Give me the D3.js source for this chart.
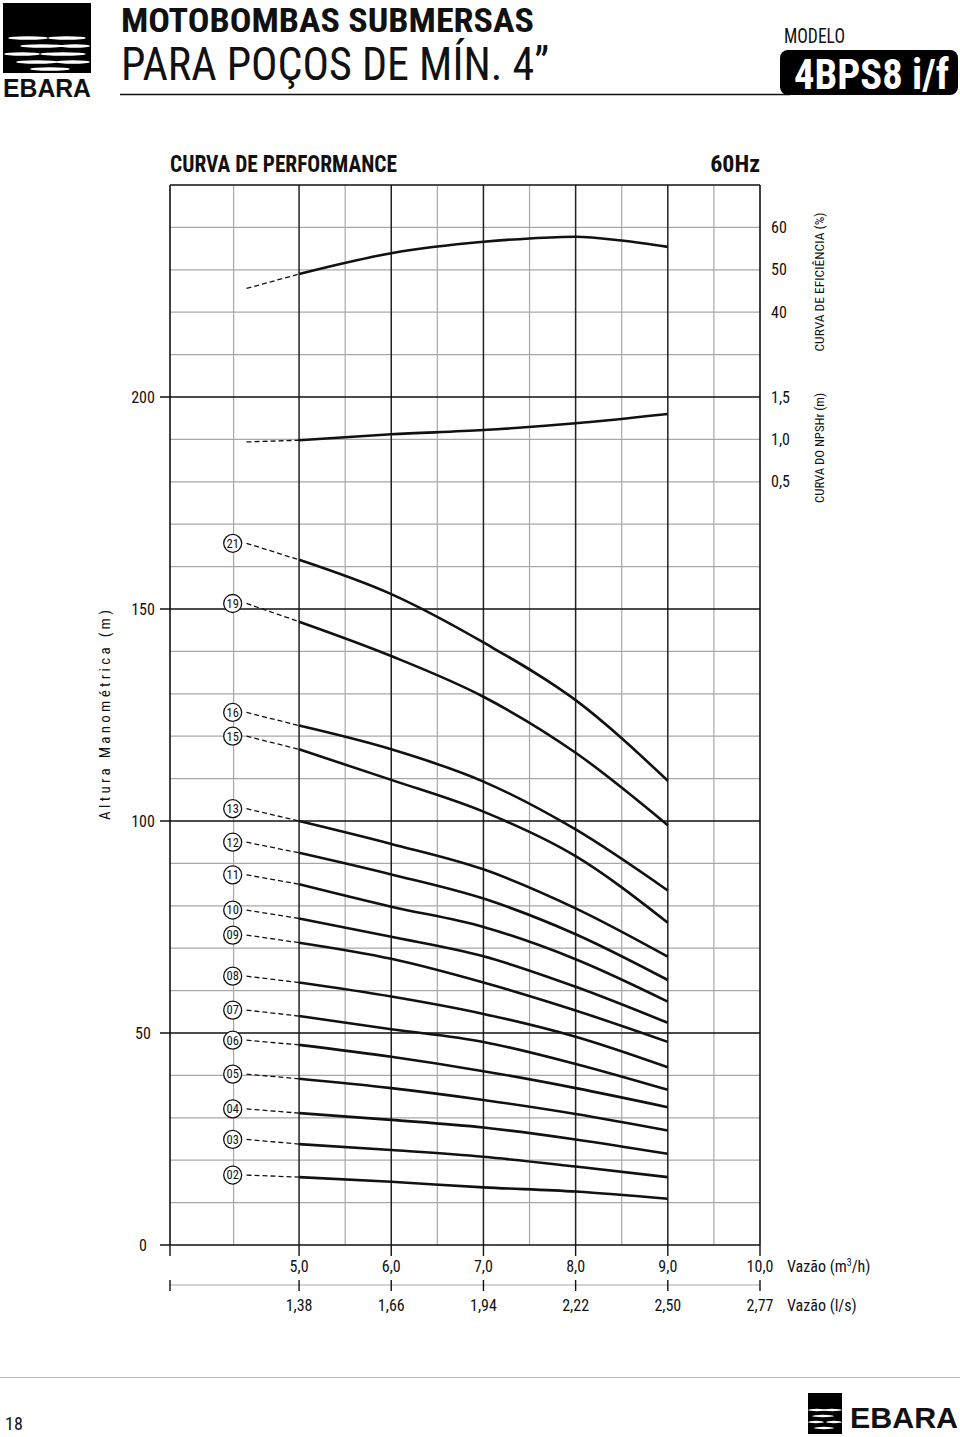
<!DOCTYPE html>
<html><head><meta charset="utf-8">
<script src="https://cdn.jsdelivr.net/npm/d3@7/dist/d3.min.js"></script>
<style>
body{margin:0;background:#fff;}
svg text{font-family:"Liberation Sans Narrow","Arial Narrow","Roboto Condensed",Roboto,"Liberation Sans",sans-serif;fill:#111;}
</style></head><body>
<svg id="c" width="960" height="1437"></svg>
<script>
// ---------- data ----------
const flowPoints = [5, 6, 7, 8, 9];           // m3/h where curves are read
const startFlow = 4.43;                        // start of dashed extension
const labelFlow = 4.28;                        // circle label position
const stageLabels = ["21","19","16","15","13","12","11","10","09","08","07","06","05","04","03","02"];
const startHeads  = [165.5,151.3,125.6,120.0,102.9,95.0,87.3,79.0,73.1,63.4,55.4,48.3,40.3,32.1,24.9,16.5];
const h21 = [161.6,153.5,142.1,128.5,109.5];
const h19 = [147.0,138.9,129.3,116.1,99.0];
const h16 = [122.5,116.9,109.3,98.0,83.6];
const h15 = [116.9,109.7,102.2,91.7,76.0];
const h13 = [100.0,94.6,88.6,79.4,68.0];
const h12 = [92.5,87.4,81.7,73.3,62.5];
const h11 = [85.1,79.8,75.0,67.4,57.4];
const h10 = [77.0,72.7,68.1,60.9,52.4];
const h09 = [71.3,67.5,61.9,55.3,47.9];
const h08 = [61.9,58.6,54.5,49.1,41.9];
const h07 = [54.0,50.9,47.9,42.7,36.6];
const h06 = [47.2,44.4,41.0,37.0,32.5];
const h05 = [39.2,37.0,34.2,30.9,27.0];
const h04 = [31.1,29.5,27.7,24.9,21.5];
const h03 = [23.8,22.4,20.8,18.5,16.0];
const h02 = [16.0,14.9,13.6,12.6,10.9];
const headSeries = [h21,h19,h16,h15,h13,h12,h11,h10,h09,h08,h07,h06,h05,h04,h03,h02];

const effFlows  = [5, 6, 7, 7.5, 8, 8.5, 9];
const effValues = [49.0, 53.9, 56.6, 57.4, 57.8, 56.9, 55.4];
const effStart  = 45.6;
const npshFlows  = [5, 6, 7, 8, 9];
const npshValues = [0.99, 1.06, 1.11, 1.19, 1.30];
const npshStart  = 0.97;

const headTicks = [0, 50, 100, 150, 200];
const effTicks  = [60, 50, 40];
const npshTicks = [1.5, 1.0, 0.5];
const flowTicks = [5, 6, 7, 8, 9, 10];
const flowTickLabels = ["5,0","6,0","7,0","8,0","9,0","10,0"];
const lsTickLabels   = ["1,38","1,66","1,94","2,22","2,50","2,77"];
const thinFlowGrid  = [4.29, 5.5, 6.5, 7.5, 8.5, 9.5];
const thickFlowGrid = [5, 6, 7, 8, 9];

// ---------- scales ----------
const svg = d3.select("#c");
const x = d3.scaleLinear().domain([3.6, 10]).range([170, 760]);
const y = d3.scaleLinear().domain([0, 250]).range([1245, 185]);
const yEff  = d3.scaleLinear().domain([40, 60]).range([y(220), y(240)]);
const yNpsh = d3.scaleLinear().domain([0.5, 1.5]).range([y(180), y(200)]);

// ---------- header ----------
const logo = svg.append("g");
logo.append("rect").attr("x",3).attr("y",3).attr("width",88).attr("height",70).attr("fill","#000");
const waves = [[8,38,40],[48,38,38],[20,46,44],[60,46,30],[4,54,36],[40,54,46],[16,62,42],[56,62,34],[30,69,40]];
waves.forEach(w=>{
  logo.append("ellipse").attr("cx",w[0]+w[2]/2).attr("cy",w[1]).attr("rx",w[2]/2).attr("ry",1.8).attr("fill","#fff");
});
logo.append("text").attr("x",3).attr("y",97).attr("font-size",25).attr("font-weight","900")
  .attr("textLength",88).attr("lengthAdjust","spacingAndGlyphs").style("font-family","'Liberation Sans',Arial,sans-serif").text("EBARA");

svg.append("text").attr("x",121).attr("y",32).attr("font-size",34).attr("font-weight","bold")
  .attr("textLength",413).attr("lengthAdjust","spacingAndGlyphs").text("MOTOBOMBAS SUBMERSAS");
svg.append("text").attr("x",121).attr("y",80).attr("font-size",47).attr("font-weight","normal")
  .attr("textLength",428).attr("lengthAdjust","spacingAndGlyphs").text("PARA POÇOS DE MÍN. 4”");
svg.append("line").attr("x1",120).attr("x2",790).attr("y1",94.5).attr("y2",94.5).attr("stroke","#111").attr("stroke-width",1.6);
svg.append("text").attr("x",784).attr("y",43).attr("font-size",21)
  .attr("textLength",61).attr("lengthAdjust","spacingAndGlyphs").text("MODELO");
svg.append("rect").attr("x",780).attr("y",50).attr("width",178).attr("height",45).attr("rx",8).attr("fill","#000");
svg.append("text").attr("x",794).attr("y",89).attr("font-size",42).attr("font-weight","bold").style("fill","#fff")
  .attr("textLength",155).attr("lengthAdjust","spacingAndGlyphs").text("4BPS8 i/f");

svg.append("text").attr("x",170).attr("y",172).attr("font-size",24).attr("font-weight","bold")
  .attr("textLength",227).attr("lengthAdjust","spacingAndGlyphs").text("CURVA DE PERFORMANCE");
svg.append("text").attr("x",760).attr("y",172).attr("font-size",24).attr("font-weight","bold")
  .attr("text-anchor","end").text("60Hz");

// ---------- grid ----------
const grid = svg.append("g");
const hThin = d3.range(10, 250, 10).filter(v => v % 50 !== 0);
grid.selectAll(".hthin").data(hThin).join("line")
  .attr("x1",x(3.6)).attr("x2",x(10)).attr("y1",d=>y(d)).attr("y2",d=>y(d))
  .attr("stroke","#a8a8a8").attr("stroke-width",1.2);
grid.selectAll(".vthin").data(thinFlowGrid).join("line")
  .attr("x1",d=>x(d)).attr("x2",d=>x(d)).attr("y1",y(250)).attr("y2",y(0))
  .attr("stroke","#a8a8a8").attr("stroke-width",1.2);
grid.selectAll(".vthick").data(thickFlowGrid).join("line")
  .attr("x1",d=>x(d)).attr("x2",d=>x(d)).attr("y1",y(250)).attr("y2",y(0))
  .attr("stroke","#222").attr("stroke-width",1.5);
grid.selectAll(".hthick").data(headTicks).join("line")
  .attr("x1",160).attr("x2",x(10)).attr("y1",d=>y(d)).attr("y2",d=>y(d))
  .attr("stroke","#111").attr("stroke-width",1.6);
// frame
grid.append("line").attr("x1",x(3.6)).attr("x2",x(10)).attr("y1",y(250)).attr("y2",y(250)).attr("stroke","#111").attr("stroke-width",1.6);
grid.append("line").attr("x1",x(3.6)).attr("x2",x(3.6)).attr("y1",y(250)).attr("y2",y(0)).attr("stroke","#111").attr("stroke-width",1.6);
grid.append("line").attr("x1",x(10)).attr("x2",x(10)).attr("y1",y(250)).attr("y2",y(0)).attr("stroke","#111").attr("stroke-width",1.6);

// ---------- left axis ----------
svg.selectAll(".ylab").data(headTicks).join("text")
  .attr("x",143).attr("y",d=>y(d)+5.5).attr("text-anchor","middle").attr("font-size",16).text(d=>d);
svg.append("text").attr("transform",`translate(110,${(y(150)+y(100))/2}) rotate(-90)`)
  .attr("text-anchor","middle").attr("font-size",15).attr("textLength",210).attr("lengthAdjust","spacing")
  .text("Altura Manométrica (m)");

// ---------- right axes ----------
svg.selectAll(".efflab").data(effTicks).join("text")
  .attr("x",771).attr("y",d=>yEff(d)+5.5).attr("font-size",16).text(d=>d);
svg.selectAll(".npshlab").data(npshTicks).join("text")
  .attr("x",771).attr("y",d=>yNpsh(d)+5.5).attr("font-size",16).text(d=>d.toFixed(1).replace(".",","));
svg.append("text").attr("transform",`translate(824,282) rotate(-90)`).attr("text-anchor","middle")
  .attr("font-size",13.5).attr("textLength",139).attr("lengthAdjust","spacingAndGlyphs").text("CURVA DE EFICIÊNCIA (%)");
svg.append("text").attr("transform",`translate(824,448) rotate(-90)`).attr("text-anchor","middle")
  .attr("font-size",13.5).attr("textLength",110).attr("lengthAdjust","spacingAndGlyphs").text("CURVA DO NPSHr (m)");

// ---------- bottom axes ----------
const bx = [3.6].concat(flowTicks);
svg.selectAll(".bt1").data(bx).join("line")
  .attr("x1",d=>x(d)).attr("x2",d=>x(d)).attr("y1",1245).attr("y2",1256).attr("stroke","#111").attr("stroke-width",1.4);
svg.selectAll(".bl1").data(flowTicks).join("text")
  .attr("x",d=>x(d)).attr("y",1272).attr("text-anchor","middle").attr("font-size",16)
  .text((d,i)=>flowTickLabels[i]);
svg.append("text").attr("x",787).attr("y",1272).attr("font-size",16).html("Vazão (m<tspan dy='-6' font-size='10'>3</tspan><tspan dy='6'>/h)</tspan>");
svg.append("line").attr("x1",x(3.6)).attr("x2",x(10)).attr("y1",1285).attr("y2",1285).attr("stroke","#aaa").attr("stroke-width",1.2);
svg.selectAll(".bt2").data(bx).join("line")
  .attr("x1",d=>x(d)).attr("x2",d=>x(d)).attr("y1",1280).attr("y2",1291).attr("stroke","#111").attr("stroke-width",1.4);
svg.selectAll(".bl2").data(flowTicks).join("text")
  .attr("x",d=>x(d)).attr("y",1311).attr("text-anchor","middle").attr("font-size",16)
  .text((d,i)=>lsTickLabels[i]);
svg.append("text").attr("x",787).attr("y",1311).attr("font-size",16).text("Vazão (l/s)");

// ---------- curves ----------
const curves = svg.append("g");
const lineH = d3.line().x(d=>x(d[0])).y(d=>y(d[1])).curve(d3.curveMonotoneX);
headSeries.forEach((hs,i)=>{
  const pts = flowPoints.map((f,j)=>[f,hs[j]]);
  curves.append("path").attr("d",lineH(pts)).attr("fill","none").attr("stroke","#111").attr("stroke-width",2.6);
  curves.append("line").attr("x1",x(startFlow)).attr("y1",y(startHeads[i])).attr("x2",x(flowPoints[0])).attr("y2",y(hs[0]))
    .attr("stroke","#111").attr("stroke-width",1.3).attr("stroke-dasharray","5,3");
  curves.append("circle").attr("cx",x(labelFlow)).attr("cy",y(startHeads[i])).attr("r",9)
    .attr("fill","#fff").attr("stroke","#111").attr("stroke-width",1.3);
  curves.append("text").attr("x",x(labelFlow)).attr("y",y(startHeads[i])+4.3).attr("text-anchor","middle")
    .attr("font-size",12.5).text(stageLabels[i]);
});
const lineE = d3.line().x(d=>x(d[0])).y(d=>yEff(d[1])).curve(d3.curveMonotoneX);
curves.append("path").attr("d",lineE(effFlows.map((f,j)=>[f,effValues[j]])))
  .attr("fill","none").attr("stroke","#111").attr("stroke-width",2.6);
curves.append("line").attr("x1",x(startFlow)).attr("y1",yEff(effStart)).attr("x2",x(effFlows[0])).attr("y2",yEff(effValues[0]))
  .attr("stroke","#111").attr("stroke-width",1.3).attr("stroke-dasharray","5,3");
const lineN = d3.line().x(d=>x(d[0])).y(d=>yNpsh(d[1])).curve(d3.curveMonotoneX);
curves.append("path").attr("d",lineN(npshFlows.map((f,j)=>[f,npshValues[j]])))
  .attr("fill","none").attr("stroke","#111").attr("stroke-width",2.6);
curves.append("line").attr("x1",x(startFlow)).attr("y1",yNpsh(npshStart)).attr("x2",x(npshFlows[0])).attr("y2",yNpsh(npshValues[0]))
  .attr("stroke","#111").attr("stroke-width",1.3).attr("stroke-dasharray","5,3");

// ---------- footer ----------
svg.append("line").attr("x1",0).attr("x2",960).attr("y1",1377.5).attr("y2",1377.5).attr("stroke","#bbb").attr("stroke-width",1);
svg.append("text").attr("x",5).attr("y",1430).attr("font-size",18).attr("font-family","'Liberation Sans',Arial,sans-serif").text("18");
const flogo = svg.append("g");
flogo.append("rect").attr("x",808).attr("y",1393).attr("width",34).attr("height",41).attr("fill","#000");
[[808,1410,18],[822,1410,20],[812,1416,22],[808,1422,16],[826,1422,16],[814,1428,20]].forEach(w=>{
  flogo.append("ellipse").attr("cx",w[0]+w[2]/2).attr("cy",w[1]).attr("rx",w[2]/2).attr("ry",1.2).attr("fill","#fff");
});
flogo.append("text").attr("x",850).attr("y",1428).attr("font-size",30).attr("font-weight","900")
  .attr("textLength",108).attr("lengthAdjust","spacingAndGlyphs").style("font-family","'Liberation Sans',Arial,sans-serif").text("EBARA");
</script>
</body></html>
